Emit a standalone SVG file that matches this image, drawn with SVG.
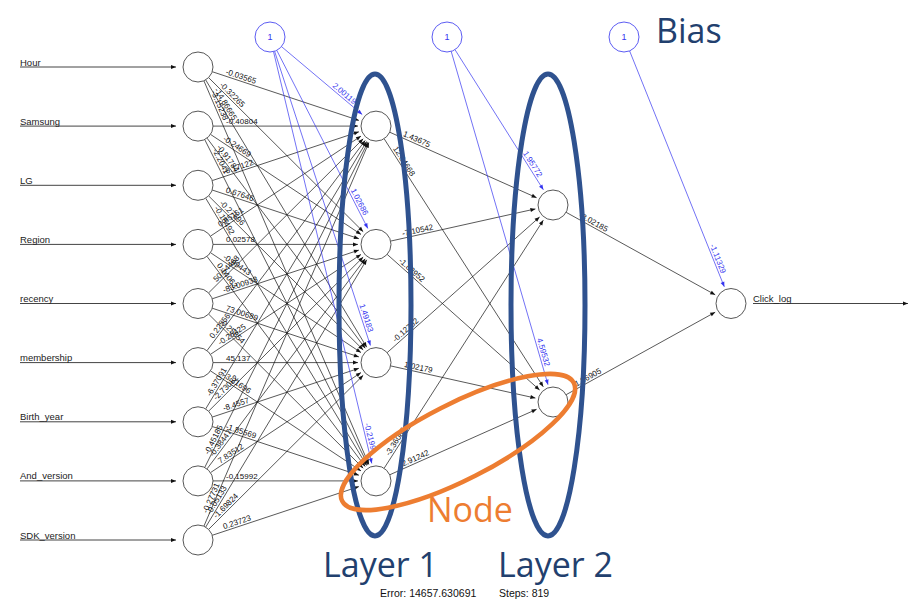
<svg xmlns="http://www.w3.org/2000/svg" width="912" height="608" viewBox="0 0 912 608">
<defs>
<style>
.e{stroke:#111;stroke-width:0.7;fill:none;marker-end:url(#ah)}
.b{stroke:#3535f0;stroke-width:0.7;fill:none;marker-end:url(#ahb)}
.in{stroke:#444;stroke-width:1;fill:none;marker-end:url(#ah)}
.w{font-family:"Liberation Sans",Arial,sans-serif;font-size:8px;fill:#111}
.wb{font-family:"Liberation Sans",Arial,sans-serif;font-size:8px;fill:#3535f0;text-anchor:end}
.n{fill:#fff;stroke:#444;stroke-width:0.9}
.nb{fill:#fff;stroke:#4a4af0;stroke-width:0.9}
.t1{font-family:"Liberation Sans",Arial,sans-serif;font-size:9.5px;fill:#222}
.one{font-family:"Liberation Sans",Arial,sans-serif;font-size:9px;fill:#3535f0;text-anchor:middle}
.big{font-family:"Open Sans","Noto Sans",sans-serif;font-size:34px;fill:#22406e}
.lay{fill:none;stroke:#2f528f;stroke-width:5}
</style>
<marker id="ah" viewBox="-6 -3 7 6" refX="0" refY="0" markerWidth="7" markerHeight="6" markerUnits="userSpaceOnUse" orient="auto"><path d="M0,0 L-5,-2 L-5,2 z" fill="#111"/></marker>
<marker id="ahb" viewBox="-6 -3 7 6" refX="0" refY="0" markerWidth="7" markerHeight="6" markerUnits="userSpaceOnUse" orient="auto"><path d="M0,0 L-5,-2 L-5,2 z" fill="#3535f0"/></marker>
</defs>
<rect width="912" height="608" fill="#fff"/>

<g id="connectors">
<!-- input lines -->
<line class="in" x1="20" y1="67" x2="176" y2="67"/>
<line class="in" x1="20" y1="126.1" x2="176" y2="126.1"/>
<line class="in" x1="20" y1="185.3" x2="176" y2="185.3"/>
<line class="in" x1="20" y1="244.4" x2="176" y2="244.4"/>
<line class="in" x1="20" y1="303.5" x2="176" y2="303.5"/>
<line class="in" x1="20" y1="362.6" x2="176" y2="362.6"/>
<line class="in" x1="20" y1="421.8" x2="176" y2="421.8"/>
<line class="in" x1="20" y1="480.9" x2="176" y2="480.9"/>
<line class="in" x1="20" y1="540" x2="176" y2="540"/>
<line class="in" x1="753" y1="303.5" x2="908" y2="303.5"/>

<!-- input -> hidden 1 -->
<line class="e" x1="212.2" y1="71.7" x2="358.9" y2="120.4"/>
<line class="e" x1="208.6" y1="77.6" x2="363.2" y2="231.7"/>
<line class="e" x1="205.7" y1="79.9" x2="366.7" y2="347.2"/>
<line class="e" x1="203.9" y1="80.8" x2="368.9" y2="464.4"/>

<line class="e" x1="213" y1="126.1" x2="358" y2="126.1"/>
<line class="e" x1="210.5" y1="134.4" x2="361.0" y2="234.4"/>
<line class="e" x1="207.0" y1="138.1" x2="365.2" y2="348.2"/>
<line class="e" x1="204.7" y1="139.5" x2="367.9" y2="464.8"/>

<line class="e" x1="212.2" y1="180.6" x2="358.9" y2="131.8"/>
<line class="e" x1="212.2" y1="190.0" x2="358.9" y2="238.7"/>
<line class="e" x1="208.6" y1="195.9" x2="363.2" y2="349.9"/>
<line class="e" x1="205.7" y1="198.2" x2="366.7" y2="465.5"/>

<line class="e" x1="210.5" y1="236.1" x2="361.0" y2="136.1"/>
<line class="e" x1="213" y1="244.4" x2="358" y2="244.4"/>
<line class="e" x1="210.5" y1="252.7" x2="361.0" y2="352.6"/>
<line class="e" x1="207.0" y1="256.4" x2="365.2" y2="466.5"/>

<line class="e" x1="208.6" y1="292.9" x2="363.2" y2="138.8"/>
<line class="e" x1="212.2" y1="298.8" x2="358.9" y2="250.1"/>
<line class="e" x1="212.2" y1="308.2" x2="358.9" y2="356.9"/>
<line class="e" x1="208.6" y1="314.1" x2="363.2" y2="468.2"/>

<line class="e" x1="207.0" y1="350.6" x2="365.2" y2="140.5"/>
<line class="e" x1="210.5" y1="354.3" x2="361.0" y2="254.4"/>
<line class="e" x1="213" y1="362.6" x2="358" y2="362.6"/>
<line class="e" x1="210.5" y1="370.9" x2="361.0" y2="470.9"/>

<line class="e" x1="205.7" y1="408.9" x2="366.7" y2="141.5"/>
<line class="e" x1="208.6" y1="411.2" x2="363.2" y2="257.1"/>
<line class="e" x1="212.2" y1="417.1" x2="358.9" y2="368.3"/>
<line class="e" x1="212.2" y1="426.5" x2="358.9" y2="475.2"/>

<line class="e" x1="204.7" y1="467.5" x2="367.9" y2="142.2"/>
<line class="e" x1="207.0" y1="468.9" x2="365.2" y2="258.8"/>
<line class="e" x1="210.5" y1="472.6" x2="361.0" y2="372.6"/>
<line class="e" x1="213" y1="480.9" x2="358" y2="480.9"/>

<line class="e" x1="203.9" y1="526.2" x2="368.9" y2="142.6"/>
<line class="e" x1="205.7" y1="527.1" x2="366.7" y2="259.8"/>
<line class="e" x1="208.6" y1="529.4" x2="363.2" y2="375.3"/>
<line class="e" x1="212.2" y1="535.3" x2="358.9" y2="486.6"/>

<!-- hidden 1 -> hidden 2 -->
<line class="e" x1="389.7" y1="132.2" x2="536.6" y2="197.7"/>
<line class="e" x1="384.1" y1="138.7" x2="543.3" y2="386.8"/>
<line class="e" x1="390.6" y1="241.1" x2="535.4" y2="208.9"/>
<line class="e" x1="387.2" y1="254.4" x2="539.6" y2="390.0"/>
<line class="e" x1="387.2" y1="352.6" x2="539.6" y2="217.0"/>
<line class="e" x1="390.6" y1="365.9" x2="535.4" y2="398.1"/>
<line class="e" x1="384.1" y1="468.3" x2="543.3" y2="220.2"/>
<line class="e" x1="389.7" y1="474.8" x2="536.6" y2="409.3"/>

<!-- hidden 2 -> output -->
<line class="e" x1="566.1" y1="212.3" x2="715.2" y2="294.8"/>
<line class="e" x1="566.1" y1="394.7" x2="715.2" y2="312.2"/>

<!-- bias -->
<line class="b" x1="281.5" y1="46.6" x2="362.2" y2="114.5"/>
<line class="b" x1="276.8" y1="50.4" x2="367.8" y2="228.4"/>
<line class="b" x1="274.6" y1="51.3" x2="370.4" y2="345.5"/>
<line class="b" x1="273.5" y1="51.6" x2="371.8" y2="463.4"/>
<line class="b" x1="455.0" y1="49.7" x2="543.4" y2="189.8"/>
<line class="b" x1="451.2" y1="51.4" x2="548.0" y2="384.7"/>
<line class="b" x1="629.6" y1="50.9" x2="724.3" y2="286.8"/>

<!-- weight labels -->
<text class="w" transform="translate(224.6,75.8) rotate(18.38)" y="-2">-0.03565</text>
<text class="w" transform="translate(217.8,86.8) rotate(44.9)" y="-2">-0.32265</text>
<text class="w" transform="translate(212.4,91.0) rotate(58.94)" y="-2">-14.86665</text>
<text class="w" transform="translate(209.1,92.7) rotate(66.73)" y="-2">-3.15238</text>

<text class="w" transform="translate(226,126.1)" y="-2">-0.40804</text>
<text class="w" transform="translate(221.3,141.6) rotate(33.6)" y="-2">-0.24669</text>
<text class="w" transform="translate(214.8,148.5) rotate(53.03)" y="-2">-0.91784</text>
<text class="w" transform="translate(210.6,151.1) rotate(63.35)" y="-2">-2.2041</text>

<text class="w" transform="translate(224.6,176.5) rotate(-18.38)" y="-2">-0.17122</text>
<text class="w" transform="translate(224.6,194.1) rotate(18.38)" y="-2">0.67646</text>
<text class="w" transform="translate(217.8,205.1) rotate(44.9)" y="-2">-0.27696</text>
<text class="w" transform="translate(212.4,209.3) rotate(58.94)" y="-2">-0.18492</text>

<text class="w" transform="translate(221.3,228.9) rotate(-33.6)" y="-2">0.85161</text>
<text class="w" transform="translate(226,244.4)" y="-2">0.02578</text>
<text class="w" transform="translate(221.3,259.9) rotate(33.6)" y="-2">-0.89443</text>
<text class="w" transform="translate(214.8,266.8) rotate(53.03)" y="-2">0.14063</text>

<text class="w" transform="translate(217.8,283.7) rotate(-44.9)" y="-2">50.54468</text>
<text class="w" transform="translate(224.6,294.7) rotate(-18.38)" y="-2">-83.00938</text>
<text class="w" transform="translate(224.6,312.3) rotate(18.38)" y="-2">73.00689</text>
<text class="w" transform="translate(217.8,323.3) rotate(44.9)" y="-2">-0.25854</text>

<text class="w" transform="translate(214.8,340.2) rotate(-53.03)" y="-2">0.22556</text>
<text class="w" transform="translate(221.3,347.1) rotate(-33.6)" y="-2">-0.26425</text>
<text class="w" transform="translate(226,362.6)" y="-2">45.137</text>
<text class="w" transform="translate(221.3,378.1) rotate(33.6)" y="-2">-3.21696</text>

<text class="w" transform="translate(212.4,397.8) rotate(-58.94)" y="-2">-6.37091</text>
<text class="w" transform="translate(217.8,402.0) rotate(-44.9)" y="-2">-2.73082</text>
<text class="w" transform="translate(224.6,413.0) rotate(-18.38)" y="-2">-8.4557</text>
<text class="w" transform="translate(224.6,430.6) rotate(18.38)" y="-2">-1.85569</text>

<text class="w" transform="translate(210.6,455.9) rotate(-63.35)" y="-2">-0.45185</text>
<text class="w" transform="translate(214.8,458.5) rotate(-53.03)" y="-2">-0.38447</text>
<text class="w" transform="translate(221.3,465.4) rotate(-33.6)" y="-2">7.83512</text>
<text class="w" transform="translate(226,480.9)" y="-2">-0.15992</text>

<text class="w" transform="translate(209.1,514.3) rotate(-66.73)" y="-2">-0.27731</text>
<text class="w" transform="translate(212.4,516.0) rotate(-58.94)" y="-2">-0.05133</text>
<text class="w" transform="translate(217.8,520.2) rotate(-44.9)" y="-2">-1.69824</text>
<text class="w" transform="translate(224.6,531.2) rotate(-18.38)" y="-2">0.23723</text>

<text class="w" transform="translate(401.6,137.5) rotate(24.03)" y="-2">1.43675</text>
<text class="w" transform="translate(391.1,149.7) rotate(57.32)" y="-2">12.84668</text>
<text class="w" transform="translate(403.3,238.3) rotate(-12.55)" y="-2">-7.10542</text>
<text class="w" transform="translate(396.9,263.0) rotate(41.68)" y="-2">-1.83952</text>
<text class="w" transform="translate(396.9,344.0) rotate(-41.68)" y="-2">-0.12732</text>
<text class="w" transform="translate(403.3,368.7) rotate(12.55)" y="-2">1.02179</text>
<text class="w" transform="translate(391.1,457.3) rotate(-57.32)" y="-2">-3.36085</text>
<text class="w" transform="translate(401.6,469.5) rotate(-24.03)" y="-2">-2.91242</text>

<text class="w" transform="translate(577.5,218.6) rotate(28.96)" y="-2">-3.02185</text>
<text class="w" transform="translate(577.5,388.4) rotate(-28.96)" y="-2">1.86905</text>

<text class="wb" transform="translate(352.3,106.2) rotate(40.05)" y="-2">2.00119</text>
<text class="wb" transform="translate(361.9,216.8) rotate(62.93)" y="-2">1.02686</text>
<text class="wb" transform="translate(366.4,333.1) rotate(71.97)" y="-2">1.49183</text>
<text class="wb" transform="translate(368.8,450.7) rotate(76.57)" y="-2">-0.2199</text>
<text class="wb" transform="translate(536.5,178.8) rotate(57.75)" y="-2">1.95772</text>
<text class="wb" transform="translate(543.0,367.4) rotate(73.8)" y="-2">4.59532</text>
<text class="wb" transform="translate(719.4,274.7) rotate(68.12)" y="-2">-1.11329</text>
</g>

<g id="input-hour"><circle class="n" cx="198" cy="67" r="15"/><text class="t1" x="20" y="65.5">Hour</text></g>
<g id="input-samsung"><circle class="n" cx="198" cy="126.1" r="15"/><text class="t1" x="20" y="124.6">Samsung</text></g>
<g id="input-lg"><circle class="n" cx="198" cy="185.3" r="15"/><text class="t1" x="20" y="183.8">LG</text></g>
<g id="input-region"><circle class="n" cx="198" cy="244.4" r="15"/><text class="t1" x="20" y="242.9">Region</text></g>
<g id="input-recency"><circle class="n" cx="198" cy="303.5" r="15"/><text class="t1" x="20" y="302">recency</text></g>
<g id="input-membership"><circle class="n" cx="198" cy="362.6" r="15"/><text class="t1" x="20" y="361.1">membership</text></g>
<g id="input-birth-year"><circle class="n" cx="198" cy="421.8" r="15"/><text class="t1" x="20" y="420.3">Birth_year</text></g>
<g id="input-and-version"><circle class="n" cx="198" cy="480.9" r="15"/><text class="t1" x="20" y="479.4">And_version</text></g>
<g id="input-sdk-version"><circle class="n" cx="198" cy="540" r="15"/><text class="t1" x="20" y="538.5">SDK_version</text></g>

<g id="hidden1-1"><circle class="n" cx="376" cy="126.1" r="15"/></g>
<g id="hidden1-2"><circle class="n" cx="376" cy="244.4" r="15"/></g>
<g id="hidden1-3"><circle class="n" cx="376" cy="362.6" r="15"/></g>
<g id="hidden1-4"><circle class="n" cx="376" cy="480.9" r="15"/></g>
<g id="hidden2-1"><circle class="n" cx="553" cy="205" r="15"/></g>
<g id="hidden2-2"><circle class="n" cx="553" cy="402" r="15"/></g>
<g id="output"><circle class="n" cx="731" cy="303.5" r="15"/><text class="t1" x="753" y="302">Click_log</text></g>

<g id="bias1"><circle class="nb" cx="270" cy="37" r="15"/><text class="one" x="270" y="40.2">1</text></g>
<g id="bias2"><circle class="nb" cx="447" cy="37" r="15"/><text class="one" x="447" y="40.2">1</text></g>
<g id="bias3"><circle class="nb" cx="624" cy="37" r="15"/><text class="one" x="624" y="40.2">1</text></g>

<g id="layer1-ring"><ellipse class="lay" cx="375" cy="305" rx="36" ry="231"/></g>
<g id="layer2-ring"><ellipse class="lay" cx="548" cy="305" rx="37" ry="231"/></g>
<g id="node-ring"><ellipse cx="458" cy="442" rx="130" ry="38" transform="rotate(-27 458 442)" fill="none" stroke="#ed7d31" stroke-width="4.5"/></g>

<g id="annotations">
<text class="big" x="656" y="43">Bias</text>
<text class="big" x="323" y="577">Layer 1</text>
<text class="big" x="498" y="577">Layer 2</text>
<text class="big" x="427" y="522" style="fill:#ed7d31">Node</text>
<text x="380" y="597" style="font-family:'Liberation Sans',Arial,sans-serif;font-size:10.5px;fill:#111">Error: 14657.630691</text>
<text x="499" y="597" style="font-family:'Liberation Sans',Arial,sans-serif;font-size:10.5px;fill:#111">Steps: 819</text>
</g>
</svg>
